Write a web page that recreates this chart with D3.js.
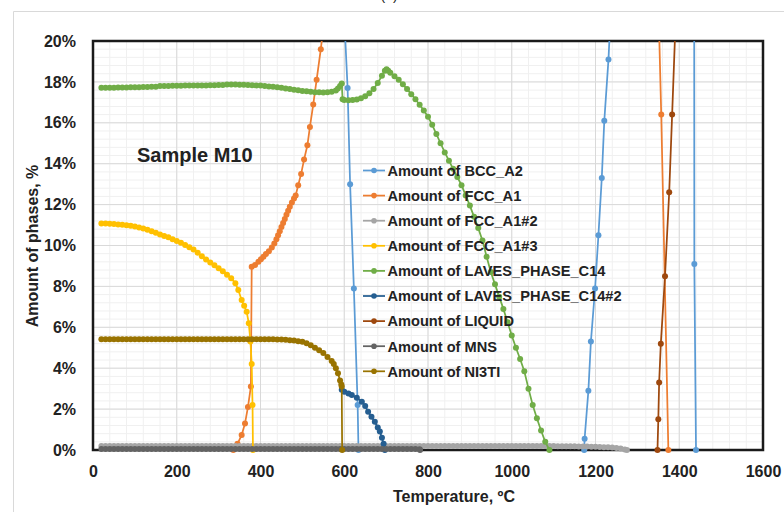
<!DOCTYPE html>
<html>
<head>
<meta charset="utf-8">
<script src="https://cdn.jsdelivr.net/npm/d3@7"></script>
<style>
  body { margin: 0; background: #fff; }
  svg text { font-family: "Liberation Sans", Arial, sans-serif; font-weight: bold; fill: #222; }
</style>
</head>
<body>
<svg id="chart" width="784" height="512"></svg>
<script>
// Axis ticks
var xTicks = [0, 200, 400, 600, 800, 1000, 1200, 1400, 1600];
var yTicks = [0, 2, 4, 6, 8, 10, 12, 14, 16, 18, 20];

// Phase amounts, [temperature °C, amount %]; null = phase absent
var bccA2 = [
  [20, 64], [200, 63], [400, 61], [560, 45], [598, 22.0], [608, 17.7], [614, 13.0],
  [623, 7.9], [632, 2.2], [634, 0], [900, null],
  [1173, 0], [1174, 0.55], [1183, 2.9], [1189, 5.3], [1199, 7.9], [1207, 10.5],
  [1215, 13.3], [1221, 16.1], [1231, 19.1], [1240, 23], [1300, 45], [1400, 58],
  [1435, 45], [1436, 9.1], [1440, 0]
];
var fccA1 = [
  [335, 0], [345, 0.3], [355, 0.73], [363, 1.3], [370, 2.1], [377, 3.1], [379, 8.96],
  [387, 9.05], [395, 9.2], [401, 9.33], [407, 9.45], [413, 9.58], [420, 9.72], [427, 9.9],
  [433, 10.1], [438, 10.3], [442, 10.5], [446, 10.7], [450, 10.9], [454, 11.1], [458, 11.3],
  [462, 11.5], [466, 11.7], [470, 11.9], [475, 12.1], [480, 12.3], [484, 12.45], [490, 12.95],
  [497, 13.5], [504, 14.2], [512, 14.9], [518, 15.8], [526, 16.9], [534, 18.1], [544, 19.6],
  [552, 21.0], [600, 35], [800, 60], [1200, 65], [1330, 45], [1352, 20.4], [1357, 16.4],
  [1374, 0]
];
var fccA1n2 = [
  [20, 0.2], [30, 0.2], [40, 0.2], [50, 0.2], [60, 0.2], [70, 0.2], [80, 0.2], [90, 0.2],
  [100, 0.2], [110, 0.2], [120, 0.2], [130, 0.2], [140, 0.2], [150, 0.2], [160, 0.2],
  [170, 0.2], [180, 0.2], [190, 0.2], [200, 0.2], [210, 0.2], [220, 0.2], [230, 0.2],
  [240, 0.2], [250, 0.2], [260, 0.2], [270, 0.2], [280, 0.2], [290, 0.2], [300, 0.2],
  [310, 0.2], [320, 0.2], [330, 0.2], [340, 0.2], [350, 0.2], [360, 0.2], [370, 0.2],
  [380, 0.2], [390, 0.2], [400, 0.2], [410, 0.2], [420, 0.2], [430, 0.2], [440, 0.2],
  [450, 0.2], [460, 0.2], [470, 0.2], [480, 0.2], [490, 0.2], [500, 0.2], [510, 0.2],
  [520, 0.2], [530, 0.2], [540, 0.2], [550, 0.2], [560, 0.2], [570, 0.2], [580, 0.2],
  [590, 0.2], [600, 0.2], [610, 0.2], [620, 0.2], [630, 0.2], [640, 0.2], [650, 0.2],
  [660, 0.2], [670, 0.2], [680, 0.2], [690, 0.2], [700, 0.2], [710, 0.2], [720, 0.2],
  [730, 0.2], [740, 0.2], [750, 0.2], [760, 0.2], [770, 0.2], [780, 0.2], [790, 0.2],
  [800, 0.2], [810, 0.2], [820, 0.2], [830, 0.2], [840, 0.2], [850, 0.2], [860, 0.2],
  [870, 0.2], [880, 0.2], [890, 0.2], [900, 0.2], [910, 0.2], [920, 0.2], [930, 0.2],
  [940, 0.2], [950, 0.2], [960, 0.2], [970, 0.2], [980, 0.2], [990, 0.2], [1000, 0.2],
  [1010, 0.2], [1020, 0.2], [1030, 0.19], [1040, 0.19], [1050, 0.19], [1060, 0.19],
  [1070, 0.19], [1080, 0.19], [1090, 0.19], [1100, 0.19], [1110, 0.18], [1120, 0.18],
  [1130, 0.18], [1140, 0.18], [1150, 0.18], [1160, 0.17], [1170, 0.17], [1180, 0.17],
  [1190, 0.16], [1200, 0.16], [1210, 0.15], [1220, 0.14], [1230, 0.13], [1240, 0.12],
  [1250, 0.1], [1260, 0.07], [1270, 0.03], [1275, 0]
];
var fccA1n3 = [
  [20, 11.08], [30, 11.07], [40, 11.06], [50, 11.05], [60, 11.03], [70, 11.01], [80, 10.99],
  [90, 10.96], [100, 10.93], [110, 10.88], [120, 10.83], [130, 10.77], [140, 10.7],
  [150, 10.62], [160, 10.54], [170, 10.47], [180, 10.4], [190, 10.31], [200, 10.22],
  [210, 10.13], [220, 10.03], [230, 9.92], [240, 9.8], [250, 9.65], [260, 9.48], [270, 9.32],
  [280, 9.17], [290, 9.03], [300, 8.89], [310, 8.74], [320, 8.57], [330, 8.4], [340, 8.15],
  [347, 7.82], [355, 7.33], [361, 7.05], [367, 6.76], [372, 6.2], [376, 5.3], [379, 4.2],
  [381, 2.2], [382, 0]
];
var lavesC14 = [
  [20, 17.72], [30, 17.72], [40, 17.72], [50, 17.72], [60, 17.73], [70, 17.73], [80, 17.73],
  [90, 17.74], [100, 17.74], [110, 17.74], [120, 17.75], [130, 17.75], [140, 17.76],
  [150, 17.76], [160, 17.8], [170, 17.8], [180, 17.8], [190, 17.81], [200, 17.81],
  [210, 17.81], [220, 17.82], [230, 17.82], [240, 17.82], [250, 17.83], [260, 17.83],
  [270, 17.83], [280, 17.84], [290, 17.84], [300, 17.85], [310, 17.85], [320, 17.87],
  [330, 17.87], [340, 17.87], [350, 17.86], [360, 17.86], [370, 17.85], [380, 17.84],
  [390, 17.83], [400, 17.82], [410, 17.8], [420, 17.78], [430, 17.76], [440, 17.74],
  [450, 17.71], [460, 17.68], [470, 17.65], [480, 17.62], [490, 17.59], [500, 17.56],
  [510, 17.54], [520, 17.52], [530, 17.5], [540, 17.49], [550, 17.48], [560, 17.49],
  [570, 17.52], [580, 17.58], [585, 17.68], [590, 17.8], [594, 17.92], [596, 17.15],
  [600, 17.12], [610, 17.1], [620, 17.11], [630, 17.14], [640, 17.2], [650, 17.3],
  [660, 17.45], [670, 17.65], [680, 17.95], [690, 18.3], [697, 18.55], [701, 18.62],
  [705, 18.55], [710, 18.45], [720, 18.28], [730, 18.1], [740, 17.88], [750, 17.65],
  [760, 17.4], [770, 17.15], [780, 16.88], [790, 16.6], [800, 16.3], [810, 15.9],
  [820, 15.45], [830, 15.0], [840, 14.55], [850, 14.15], [860, 13.75], [870, 13.35],
  [880, 12.95], [890, 12.45], [900, 11.95], [910, 11.4], [920, 10.85], [930, 10.25],
  [940, 9.45], [950, 8.7], [960, 8.1], [970, 7.5], [980, 6.9], [990, 6.25], [1000, 5.6],
  [1010, 5.0], [1020, 4.45], [1030, 3.85], [1040, 3.0], [1050, 2.2], [1060, 1.55],
  [1070, 0.95], [1080, 0.4], [1090, 0]
];
var lavesC14n2 = [
  [594, 2.95], [600, 2.85], [610, 2.76], [618, 2.69], [630, 2.55], [642, 2.36], [650, 2.15],
  [657, 1.87], [665, 1.62], [673, 1.38], [680, 1.1], [685, 0.9], [690, 0.6], [694, 0.3],
  [697, 0]
];
var liquid = [
  [1348, 0], [1350, 1.5], [1352, 3.3], [1356, 5.2], [1366, 8.5], [1376, 12.6], [1383, 16.4],
  [1392, 21.4], [1420, 40], [1460, 80], [1500, 100]
];
var mns = [
  [20, 0.05], [30, 0.05], [40, 0.05], [50, 0.05], [60, 0.05], [70, 0.05], [80, 0.05],
  [90, 0.05], [100, 0.05], [110, 0.05], [120, 0.05], [130, 0.05], [140, 0.05], [150, 0.05],
  [160, 0.05], [170, 0.05], [180, 0.05], [190, 0.05], [200, 0.05], [210, 0.05], [220, 0.05],
  [230, 0.05], [240, 0.05], [250, 0.05], [260, 0.05], [270, 0.05], [280, 0.05], [290, 0.05],
  [300, 0.05], [310, 0.05], [320, 0.05], [330, 0.05], [340, 0.05], [350, 0.05], [360, 0.05],
  [370, 0.05], [380, 0.05], [390, 0.05], [400, 0.05], [410, 0.05], [420, 0.05], [430, 0.05],
  [440, 0.05], [450, 0.05], [460, 0.05], [470, 0.05], [480, 0.05], [490, 0.05], [500, 0.05],
  [510, 0.05], [520, 0.05], [530, 0.05], [540, 0.05], [550, 0.05], [560, 0.05], [570, 0.05],
  [580, 0.05], [590, 0.05], [600, 0.05], [610, 0.05], [620, 0.05], [630, 0.05], [640, 0.05],
  [650, 0.05], [660, 0.05], [670, 0.05], [680, 0.05], [690, 0.05], [700, 0.05], [710, 0.05],
  [720, 0.05], [730, 0.05], [740, 0.05], [750, 0.05], [760, 0.05], [770, 0.05], [780, 0.04],
  [781, 0]
];
var ni3ti = [
  [20, 5.42], [30, 5.42], [40, 5.42], [50, 5.42], [60, 5.42], [70, 5.42], [80, 5.42],
  [90, 5.42], [100, 5.42], [110, 5.42], [120, 5.42], [130, 5.42], [140, 5.42], [150, 5.42],
  [160, 5.42], [170, 5.42], [180, 5.42], [190, 5.42], [200, 5.42], [210, 5.42], [220, 5.42],
  [230, 5.42], [240, 5.42], [250, 5.42], [260, 5.42], [270, 5.42], [280, 5.42], [290, 5.42],
  [300, 5.42], [310, 5.42], [320, 5.42], [330, 5.42], [340, 5.42], [350, 5.42], [360, 5.42],
  [370, 5.42], [380, 5.42], [390, 5.42], [400, 5.42], [410, 5.42], [420, 5.41], [430, 5.41],
  [440, 5.4], [450, 5.4], [460, 5.39], [470, 5.37], [480, 5.35], [490, 5.32], [500, 5.29],
  [510, 5.22], [520, 5.12], [530, 5.0], [540, 4.88], [550, 4.74], [560, 4.55], [570, 4.35],
  [575, 4.2], [580, 4.0], [585, 3.75], [590, 3.4], [593, 3.2], [594, 3.1], [595, 0]
];

var series = [
  { name: "Amount of BCC_A2", color: "#5B9BD5", data: bccA2 },
  { name: "Amount of FCC_A1", color: "#ED7D31", data: fccA1 },
  { name: "Amount of FCC_A1#2", color: "#A5A5A5", data: fccA1n2 },
  { name: "Amount of FCC_A1#3", color: "#FFC000", data: fccA1n3 },
  { name: "Amount of LAVES_PHASE_C14", color: "#70AD47", data: lavesC14 },
  { name: "Amount of LAVES_PHASE_C14#2", color: "#255E91", data: lavesC14n2 },
  { name: "Amount of LIQUID", color: "#9E480E", data: liquid },
  { name: "Amount of MNS", color: "#636363", data: mns },
  { name: "Amount of NI3TI", color: "#997300", data: ni3ti }
];

var svg = d3.select("#chart");
var plot = { left: 93, right: 763, top: 41, bottom: 450 };

var x = d3.scaleLinear().domain([0, 1600]).range([plot.left, plot.right]);
var y = d3.scaleLinear().domain([0, 20]).range([plot.bottom, plot.top]);

// outer frame of the figure
svg.append("path")
  .attr("d", "M13.5,512V11.5H784")
  .attr("fill", "none")
  .attr("stroke", "#d9d9d9")
  .attr("stroke-width", 1);

svg.append("text")
  .attr("x", 389).attr("y", 0)
  .attr("text-anchor", "middle")
  .style("font-size", "14px").style("font-weight", "normal")
  .text("(a)");

// grid: minor then major
var grid = svg.append("g").attr("class", "grid");
grid.selectAll("line.xminor")
  .data(d3.range(0, 1601, 40))
  .join("line")
  .attr("x1", function (d) { return x(d); }).attr("x2", function (d) { return x(d); })
  .attr("y1", plot.top).attr("y2", plot.bottom)
  .attr("stroke", "#f0f0f0").attr("stroke-width", 1);
grid.selectAll("line.yminor")
  .data(d3.range(0, 20.01, 0.4))
  .join("line")
  .attr("y1", function (d) { return y(d); }).attr("y2", function (d) { return y(d); })
  .attr("x1", plot.left).attr("x2", plot.right)
  .attr("stroke", "#f0f0f0").attr("stroke-width", 1);
grid.append("g").selectAll("line")
  .data(xTicks)
  .join("line")
  .attr("x1", function (d) { return x(d); }).attr("x2", function (d) { return x(d); })
  .attr("y1", plot.top).attr("y2", plot.bottom)
  .attr("stroke", "#d9d9d9").attr("stroke-width", 1);
grid.append("g").selectAll("line")
  .data(yTicks)
  .join("line")
  .attr("y1", function (d) { return y(d); }).attr("y2", function (d) { return y(d); })
  .attr("x1", plot.left).attr("x2", plot.right)
  .attr("stroke", "#d9d9d9").attr("stroke-width", 1);

// plot border
svg.append("rect")
  .attr("x", plot.left).attr("y", plot.top)
  .attr("width", plot.right - plot.left).attr("height", plot.bottom - plot.top)
  .attr("fill", "none")
  .attr("stroke", "#1a1a1a")
  .attr("stroke-width", 2.5);

// axes
var xAxis = svg.append("g")
  .attr("transform", "translate(0," + plot.bottom + ")")
  .call(d3.axisBottom(x).tickValues(xTicks).tickSize(0).tickPadding(16)
    .tickFormat(d3.format("d")));
var yAxis = svg.append("g")
  .attr("transform", "translate(" + plot.left + ",0)")
  .call(d3.axisLeft(y).tickValues(yTicks).tickSize(0).tickPadding(17)
    .tickFormat(function (d) { return d + "%"; }));
[xAxis, yAxis].forEach(function (g) {
  g.select(".domain").remove();
  g.selectAll("text").style("font-size", "16px").attr("fill", "#222");
});

svg.append("defs").append("clipPath").attr("id", "plot-clip")
  .append("rect")
  .attr("x", plot.left).attr("y", plot.top)
  .attr("width", plot.right - plot.left).attr("height", plot.bottom - plot.top + 2);

var line = d3.line()
  .defined(function (d) { return d[1] !== null; })
  .x(function (d) { return x(d[0]); })
  .y(function (d) { return y(d[1]); });

series.forEach(function (s) {
  var g = svg.append("g");
  g.append("path")
    .datum(s.data)
    .attr("clip-path", "url(#plot-clip)")
    .attr("d", line)
    .attr("fill", "none")
    .attr("stroke", s.color)
    .attr("stroke-width", 1.75);
  g.selectAll("circle")
    .data(s.data.filter(function (d) { return d[1] !== null && d[1] <= 20; }))
    .join("circle")
    .attr("cx", function (d) { return x(d[0]); })
    .attr("cy", function (d) { return y(d[1]); })
    .attr("r", 3)
    .attr("fill", s.color);
});

// legend
var legend = svg.append("g").attr("transform", "translate(363,170.5)");
var rows = legend.selectAll("g")
  .data(series)
  .join("g")
  .attr("transform", function (d, i) { return "translate(0," + (i * 25.1) + ")"; });
rows.append("line")
  .attr("x1", 0).attr("x2", 22)
  .attr("stroke", function (d) { return d.color; })
  .attr("stroke-width", 1.75);
rows.append("circle")
  .attr("cx", 11).attr("r", 2.8)
  .attr("fill", function (d) { return d.color; });
rows.append("text")
  .attr("x", 24.5).attr("y", 5.3)
  .style("font-size", "14.6px")
  .text(function (d) { return d.name; });

// titles
svg.append("text")
  .attr("x", 137).attr("y", 162)
  .style("font-size", "20px")
  .text("Sample M10");

svg.append("text")
  .attr("x", 454).attr("y", 502)
  .attr("text-anchor", "middle")
  .style("font-size", "16px")
  .text("Temperature, ºC");

svg.append("text")
  .attr("transform", "translate(38,246) rotate(-90)")
  .attr("text-anchor", "middle")
  .style("font-size", "16px")
  .text("Amount of phases, %");
</script>
</body>
</html>
